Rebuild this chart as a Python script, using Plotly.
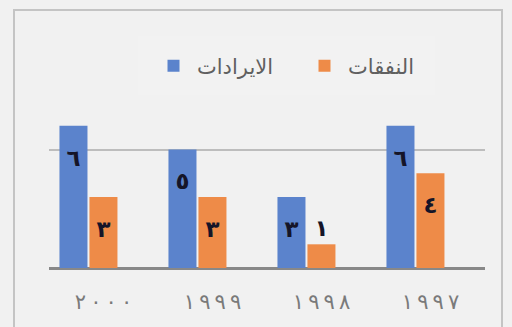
import plotly.graph_objects as go

# Revenue vs. expenditure by year (Arabic labels, right-to-left category order)
years = ["١٩٩٧", "١٩٩٨", "١٩٩٩", "٢٠٠٠"]
revenue = [6, 3, 5, 6]
expenses = [4, 1, 3, 3]
revenue_name = "الايرادات"
expenses_name = "النفقات"

arabic_digits = "٠١٢٣٤٥٦٧٨٩"


def to_arabic(n):
    return "".join(arabic_digits[int(c)] for c in str(n))


def label_pos(values, min_inside=2):
    return ["inside" if v >= min_inside else "outside" for v in values]


def label_text(values, min_inside=2):
    # an empty leading line pushes the inside labels down from the bar end
    return [("<span style='font-size:8px'> </span><br>" if v >= min_inside else "") + to_arabic(v)
            for v in values]


# year labels: narrow no-break spaces between digits (bidi class CS keeps the number intact)
year_ticks = ["\u202f".join(y) for y in years]

BLUE = "#5B83CC"
ORANGE = "#EE8B48"
BG = "#F1F1F1"
label_font = dict(family="DejaVu Sans", size=23, color="#151528", weight="bold")

fig = go.Figure()
fig.add_trace(go.Bar(
    x=years, y=expenses, name=expenses_name,
    marker=dict(color=ORANGE, line=dict(width=0)),
    width=0.257, offset=-0.128,
    text=label_text(expenses), textposition=label_pos(expenses),
    insidetextanchor="end", textangle=0,
    textfont=label_font, cliponaxis=False, legendrank=2,
))
fig.add_trace(go.Bar(
    x=years, y=revenue, name=revenue_name,
    marker=dict(color=BLUE, line=dict(width=0)),
    width=0.257, offset=0.147,
    text=label_text(revenue), textposition=label_pos(revenue),
    insidetextanchor="end", textangle=0,
    textfont=label_font, cliponaxis=False, legendrank=1,
))

L, R, T, B = 49, 485, 31, 268
W, H = 512, 327
pw, ph = R - L, B - T


def px_x(x):
    return (x - L) / pw


def px_y(y):
    return (B - y) / ph


fig.update_layout(
    width=W, height=H,
    margin=dict(l=L, r=W - R, t=T, b=H - B, pad=0),
    paper_bgcolor=BG, plot_bgcolor=BG,
    barmode="overlay",
    showlegend=True,
    legend=dict(
        orientation="h", x=px_x(301), y=px_y(66),
        xanchor="center", yanchor="middle",
        font=dict(family="DejaVu Sans", size=21, color="#606060"),
        bgcolor="rgba(0,0,0,0)", entrywidth=99, itemwidth=37,
        traceorder="normal",
    ),
    xaxis=dict(
        type="category", range=[3.5, -0.5],
        tickvals=years, ticktext=year_ticks,
        showgrid=False, zeroline=False, showline=False,
        ticks="outside", ticklen=15, tickcolor="rgba(0,0,0,0)",
        tickfont=dict(family="DejaVu Sans", size=21, color="#7A7A7A"),
    ),
    yaxis=dict(
        range=[0, 10], dtick=5, showticklabels=False,
        showgrid=True, gridcolor="#BDBDBD", gridwidth=1.5,
        zeroline=True, zerolinecolor="#888888", zerolinewidth=3,
        showline=False, ticks="",
    ),
    shapes=[
        # outer chart frame
        dict(type="rect", xref="paper", yref="paper",
             x0=px_x(14), x1=px_x(502), y0=px_y(340), y1=px_y(10),
             line=dict(color="#C4C4C4", width=2), fillcolor="rgba(0,0,0,0)",
             layer="below"),
        # faint legend panel
        dict(type="rect", xref="paper", yref="paper",
             x0=px_x(138), x1=px_x(435), y0=px_y(95), y1=px_y(36),
             line=dict(width=0), fillcolor="rgba(255,255,255,0.12)",
             layer="below"),
    ],
)

fig.write_html("out.html")
